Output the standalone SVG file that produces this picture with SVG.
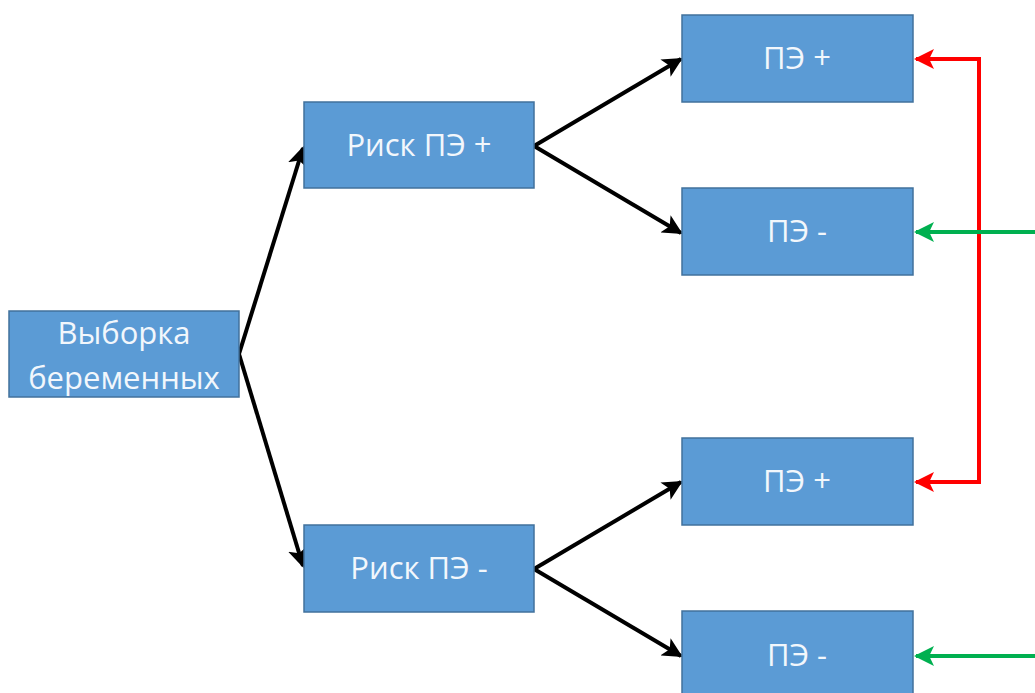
<svg xmlns="http://www.w3.org/2000/svg" width="1035" height="693" viewBox="0 0 1035 693">
<style>
.box{fill:#5B9BD5;stroke:#41719C;stroke-width:1.5}
.t{font-family:"Open Sans","Liberation Sans",sans-serif;font-size:31px;fill:#F2F7FC;text-anchor:middle}
.blk{stroke:#000;stroke-width:4;fill:none;marker-end:url(#ab)}
.red{stroke:#FF0000;stroke-width:4;fill:none;marker-end:url(#ar);marker-start:url(#ar)}
.grn{stroke:#00B050;stroke-width:4;fill:none;marker-end:url(#ag)}
</style>
<defs>
<marker id="ab" markerWidth="5" markerHeight="5" refX="4.5" refY="2.5" orient="auto-start-reverse" markerUnits="strokeWidth"><path d="M0,0 L5,2.5 L0,5 L1.2,2.5 z" fill="#000"/></marker>
<marker id="ar" markerWidth="5" markerHeight="5" refX="4.5" refY="2.5" orient="auto-start-reverse" markerUnits="strokeWidth"><path d="M0,0 L5,2.5 L0,5 L1.2,2.5 z" fill="#FF0000"/></marker>
<marker id="ag" markerWidth="5" markerHeight="5" refX="4.5" refY="2.5" orient="auto-start-reverse" markerUnits="strokeWidth"><path d="M0,0 L5,2.5 L0,5 L1.2,2.5 z" fill="#00B050"/></marker>
</defs>
<rect width="1035" height="693" fill="#fff"/>
<g id="connectors">
<path class="blk" d="M239,354 L303,148"/>
<path class="blk" d="M239,354 L303,566"/>
<path class="blk" d="M534,146 L681,59"/>
<path class="blk" d="M534,146 L681,233"/>
<path class="blk" d="M534,569 L681,482"/>
<path class="blk" d="M534,569 L681,656"/>
<path class="red" d="M916,59 L979,59 L979,482 L916,482"/>
<path class="grn" d="M1035,232 L916,232"/>
<path class="grn" d="M1035,656 L916,656"/>
</g>
<g id="n0"><rect class="box" x="9" y="311" width="230" height="86"/><text class="t" x="124" y="344">Выборка</text><text class="t" x="124" y="389">беременных</text></g>
<g id="n1"><rect class="box" x="304" y="102" width="230" height="86"/><text class="t" x="419" y="156">Риск ПЭ +</text></g>
<g id="n2"><rect class="box" x="304" y="525" width="230" height="87"/><text class="t" x="419" y="579">Риск ПЭ -</text></g>
<g id="n3"><rect class="box" x="682" y="15" width="231" height="87"/><text class="t" x="797" y="69">ПЭ +</text></g>
<g id="n4"><rect class="box" x="682" y="188" width="231" height="87"/><text class="t" x="797" y="242">ПЭ -</text></g>
<g id="n5"><rect class="box" x="682" y="438" width="231" height="87"/><text class="t" x="797" y="492">ПЭ +</text></g>
<g id="n6"><rect class="box" x="682" y="611" width="231" height="87"/><text class="t" x="797" y="666">ПЭ -</text></g>
</svg>
